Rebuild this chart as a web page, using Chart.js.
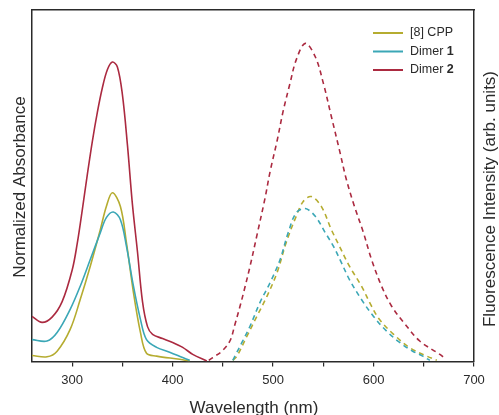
<!DOCTYPE html>
<html>
<head>
<meta charset="utf-8">
<script src="https://cdn.jsdelivr.net/npm/chart.js@4.4.1/dist/chart.umd.min.js"></script>
<style>
  html, body { margin: 0; padding: 0; background: #fff; }
</style>
</head>
<body>
<canvas id="chart" width="499" height="415"></canvas>
<script>
// wavelength ticks (nm); only the hundreds get a label
const xTicks = [300, 350, 400, 450, 500, 550, 600, 650, 700];

// absorbance (solid), normalized
const absCppWl = [260, 275, 285, 298, 308, 318, 328, 334, 340, 348, 354, 361, 368, 374, 384, 407, 417];
const absCpp = [0.017, 0.013, 0.029, 0.091, 0.176, 0.271, 0.375, 0.441, 0.480, 0.441, 0.338, 0.196, 0.082, 0.023, 0.015, 0.006, 0.001];

const absDimer1Wl = [260, 275, 285, 298, 308, 318, 328, 334, 341, 348, 354, 361, 368, 374, 384, 397, 410, 417];
const absDimer1 = [0.062, 0.058, 0.082, 0.148, 0.214, 0.290, 0.366, 0.409, 0.425, 0.403, 0.328, 0.214, 0.119, 0.062, 0.040, 0.026, 0.011, 0.003];

const absDimer2Wl = [260, 270, 280, 290, 300, 305, 310, 315, 320, 325, 330, 335, 340, 345, 350, 355, 360, 365, 370, 375, 380, 390, 400, 410, 420, 434];
const absDimer2 = [0.128, 0.111, 0.126, 0.170, 0.260, 0.335, 0.430, 0.530, 0.625, 0.708, 0.778, 0.830, 0.852, 0.838, 0.759, 0.616, 0.446, 0.312, 0.170, 0.099, 0.077, 0.065, 0.054, 0.040, 0.020, 0.001];

// fluorescence (dashed), arb. units
const flCppWl = [460, 464, 474, 484, 494, 504, 513, 523, 530, 538, 548, 558, 566, 576, 588, 598, 606, 620, 636, 653, 663];
const flCpp = [0.003, 0.015, 0.072, 0.129, 0.186, 0.253, 0.338, 0.413, 0.455, 0.469, 0.441, 0.375, 0.328, 0.271, 0.214, 0.157, 0.119, 0.077, 0.039, 0.015, 0.003];

const flDimer1Wl = [460, 462, 469, 477, 487, 497, 507, 515, 523, 532, 542, 552, 560, 568, 576, 588, 600, 613, 626, 639, 649, 656];
const flDimer1 = [0.003, 0.015, 0.054, 0.100, 0.168, 0.224, 0.290, 0.366, 0.423, 0.435, 0.413, 0.366, 0.328, 0.281, 0.233, 0.176, 0.128, 0.086, 0.054, 0.029, 0.015, 0.003];

const flDimer2Wl = [436, 440, 449, 457, 462, 467, 471, 477, 484, 492, 497, 504, 510, 517, 523, 532, 542, 550, 558, 566, 573, 581, 590, 598, 608, 618, 630, 646, 666, 670];
const flDimer2 = [0.003, 0.011, 0.029, 0.058, 0.105, 0.156, 0.200, 0.270, 0.360, 0.465, 0.540, 0.628, 0.712, 0.793, 0.858, 0.905, 0.867, 0.792, 0.697, 0.602, 0.517, 0.441, 0.366, 0.290, 0.214, 0.157, 0.111, 0.058, 0.020, 0.011];

const seriesNames = ['[8] CPP', 'Dimer ', 'Dimer '];
const seriesBold = ['', '1', '2'];
const seriesColors = ['#b5ac30', '#3ba7b6', '#ab2a40'];

const pts = (xs, ys) => xs.map((x, i) => ({ x: x, y: ys[i] }));

const line = (data, color, yAxis, dashed) => ({
  data: data,
  borderColor: color,
  borderWidth: 1.6,
  borderDash: dashed ? [5, 4] : [],
  pointRadius: 0,
  fill: false,
  tension: 0.35,
  yAxisID: yAxis
});

const font = '"Liberation Sans", Arial, sans-serif';
const ink = '#2a2a2a';

// axis titles (both read bottom-to-top) and the legend with bold numbers
const overlay = {
  id: 'overlay',
  afterDraw(chart) {
    const ctx = chart.ctx;
    const a = chart.chartArea;
    ctx.save();
    ctx.fillStyle = ink;
    ctx.textAlign = 'center';
    ctx.textBaseline = 'alphabetic';
    ctx.font = '17px ' + font;
    ctx.fillText('Wavelength (nm)', (a.left + a.right) / 2 + 1, 413);

    ctx.save();
    ctx.translate(24.5, 187);
    ctx.rotate(-Math.PI / 2);
    ctx.fillText('Normalized Absorbance', 0, 0);
    ctx.restore();

    ctx.save();
    ctx.translate(495, 199);
    ctx.rotate(-Math.PI / 2);
    ctx.fillText('Fluorescence Intensity (arb. units)', 0, 0);
    ctx.restore();

    ctx.textAlign = 'left';
    ctx.textBaseline = 'middle';
    seriesNames.forEach((name, i) => {
      const y = 33 + i * 18.5;
      ctx.strokeStyle = seriesColors[i];
      ctx.lineWidth = 2;
      ctx.beginPath();
      ctx.moveTo(373, y);
      ctx.lineTo(403, y);
      ctx.stroke();
      ctx.font = '12.5px ' + font;
      ctx.fillText(name, 410, y);
      if (seriesBold[i]) {
        const w = ctx.measureText(name).width;
        ctx.font = 'bold 12.5px ' + font;
        ctx.fillText(seriesBold[i], 410 + w, y);
      }
    });
    ctx.restore();
  }
};

const axisBorder = { display: true, color: ink, width: 1.5 };

new Chart(document.getElementById('chart'), {
  type: 'line',
  data: {
    datasets: [
      line(pts(absDimer2Wl, absDimer2), seriesColors[2], 'yAbs', false),
      line(pts(absDimer1Wl, absDimer1), seriesColors[1], 'yAbs', false),
      line(pts(absCppWl, absCpp), seriesColors[0], 'yAbs', false),
      line(pts(flDimer2Wl, flDimer2), seriesColors[2], 'yFl', true),
      line(pts(flDimer1Wl, flDimer1), seriesColors[1], 'yFl', true),
      line(pts(flCppWl, flCpp), seriesColors[0], 'yFl', true)
    ]
  },
  options: {
    responsive: false,
    animation: false,
    layout: { padding: { left: 32, right: 25, top: 10, bottom: 21 } },
    plugins: { legend: { display: false }, tooltip: { enabled: false } },
    scales: {
      x: {
        type: 'linear',
        min: 260,
        max: 700,
        afterBuildTicks: axis => { axis.ticks = xTicks.map(v => ({ value: v })); },
        ticks: {
          autoSkip: false,
          maxRotation: 0,
          padding: 6,
          color: ink,
          font: { family: font, size: 13 },
          callback: v => (v % 100 === 0 ? String(v) : '')
        },
        grid: { display: true, drawOnChartArea: false, drawTicks: true, tickLength: 5, color: ink, lineWidth: 1.2 },
        border: axisBorder
      },
      xTop: {
        type: 'linear',
        position: 'top',
        min: 260,
        max: 700,
        ticks: { display: false },
        grid: { display: false, drawTicks: false },
        border: axisBorder
      },
      yAbs: {
        type: 'linear',
        position: 'left',
        min: 0,
        max: 1,
        ticks: { display: false },
        grid: { display: false, drawTicks: false },
        border: axisBorder
      },
      yFl: {
        type: 'linear',
        position: 'right',
        min: 0,
        max: 1,
        ticks: { display: false },
        grid: { display: false, drawTicks: false },
        border: axisBorder
      }
    }
  },
  plugins: [overlay]
});
</script>
</body>
</html>
